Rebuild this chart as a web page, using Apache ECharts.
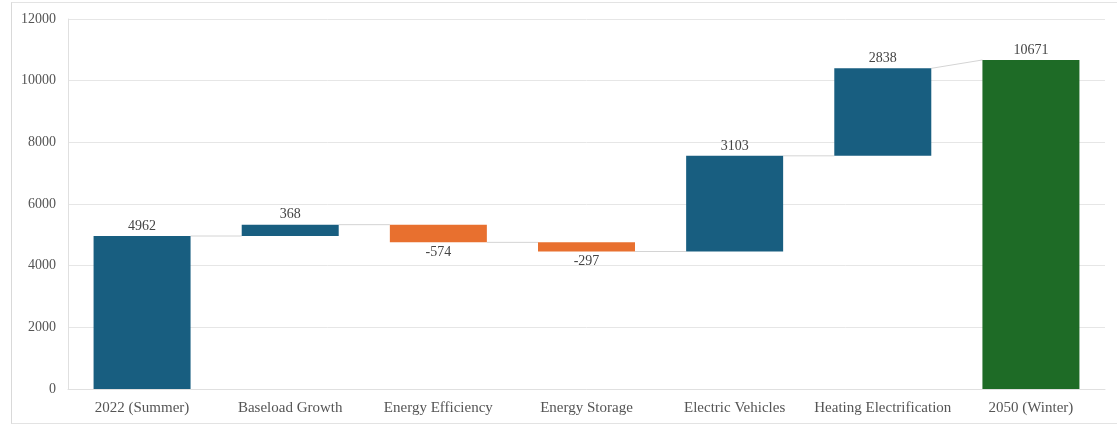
<!DOCTYPE html>
<html>
<head>
<meta charset="utf-8">
<script src="https://cdn.jsdelivr.net/npm/echarts@6/dist/echarts.min.js"></script>
<style>
html,body{margin:0;padding:0;background:#fff;}
#frame{position:absolute;left:11px;top:2px;width:1120px;height:420px;border-left:1px solid #d9d9d9;border-top:1px solid #e3e3e3;border-bottom:1px solid #e3e3e3;}
#chart{position:absolute;left:0;top:0;width:1117px;height:425px;}
</style>
</head>
<body>
<div id="frame"></div>
<div id="chart"></div>
<script>
var categories = ['2022 (Summer)', 'Baseload Growth', 'Energy Efficiency', 'Energy Storage', 'Electric Vehicles', 'Heating Electrification', '2050 (Winter)'];
var startValue = 4962;
var changes = [368, -574, -297, 3103, 2838];
var endValue = 10671;
var yTicks = { min: 0, max: 12000, interval: 2000 };

var COLOR_TOTAL_START = '#185e80';
var COLOR_UP = '#185e80';
var COLOR_DOWN = '#e8702f';
var COLOR_TOTAL_END = '#1e6b26';

// build waterfall
var base = [], visible = [], labels = [], colors = [], startLevels = [], endLevels = [];
base.push(0); visible.push(startValue); labels.push(startValue); colors.push(COLOR_TOTAL_START);
startLevels.push(0); endLevels.push(startValue);
var cum = startValue;
changes.forEach(function (d) {
  var s = cum, e = cum + d;
  base.push(Math.min(s, e)); visible.push(Math.abs(d)); labels.push(d);
  colors.push(d >= 0 ? COLOR_UP : COLOR_DOWN);
  startLevels.push(s); endLevels.push(e);
  cum = e;
});
base.push(0); visible.push(endValue); labels.push(endValue); colors.push(COLOR_TOTAL_END);
startLevels.push(endValue); endLevels.push(endValue);

var connectors = [];
for (var i = 0; i < categories.length - 1; i++) {
  connectors.push([i, endLevels[i], startLevels[i + 1]]);
}

var FONT = 'Liberation Serif';
var chart = echarts.init(document.getElementById('chart'));
chart.setOption({
  animation: false,
  backgroundColor: 'transparent',
  grid: { left: 68, right: 12, top: 19, bottom: 36 },
  xAxis: {
    type: 'category',
    data: categories,
    axisTick: { show: false },
    axisLine: { lineStyle: { color: '#e0e0e0' } },
    axisLabel: { interval: 0, color: '#555', fontFamily: FONT, fontSize: 15, margin: 12 }
  },
  yAxis: {
    type: 'value',
    min: yTicks.min, max: yTicks.max, interval: yTicks.interval,
    axisLine: { show: true, lineStyle: { color: '#e0e0e0' } },
    axisTick: { show: false },
    splitLine: { lineStyle: { color: '#e6e6e6' } },
    axisLabel: { color: '#555', fontFamily: FONT, fontSize: 14, margin: 12, formatter: function (v) { return String(v); } }
  },
  series: [
    {
      type: 'bar', stack: 'w', barWidth: 97,
      itemStyle: { color: 'transparent' },
      data: base, silent: true
    },
    {
      type: 'bar', stack: 'w', barWidth: 97,
      data: visible.map(function (v, i) {
        return {
          value: v,
          itemStyle: { color: colors[i] },
          label: {
            show: true,
            position: labels[i] < 0 ? 'bottom' : 'top',
            distance: 3,
            formatter: String(labels[i]),
            color: '#444', fontFamily: FONT, fontSize: 14
          }
        };
      })
    },
    {
      type: 'custom',
      silent: true,
      z: 1,
      data: connectors,
      renderItem: function (params, api) {
        var idx = api.value(0);
        var p1 = api.coord([idx, api.value(1)]);
        var p2 = api.coord([idx + 1, api.value(2)]);
        var half = 97 / 2;
        return {
          type: 'line',
          shape: { x1: p1[0] + half, y1: p1[1], x2: p2[0] - half, y2: p2[1] },
          style: { stroke: '#d4d4d4', lineWidth: 1 }
        };
      }
    }
  ]
});
</script>
</body>
</html>
